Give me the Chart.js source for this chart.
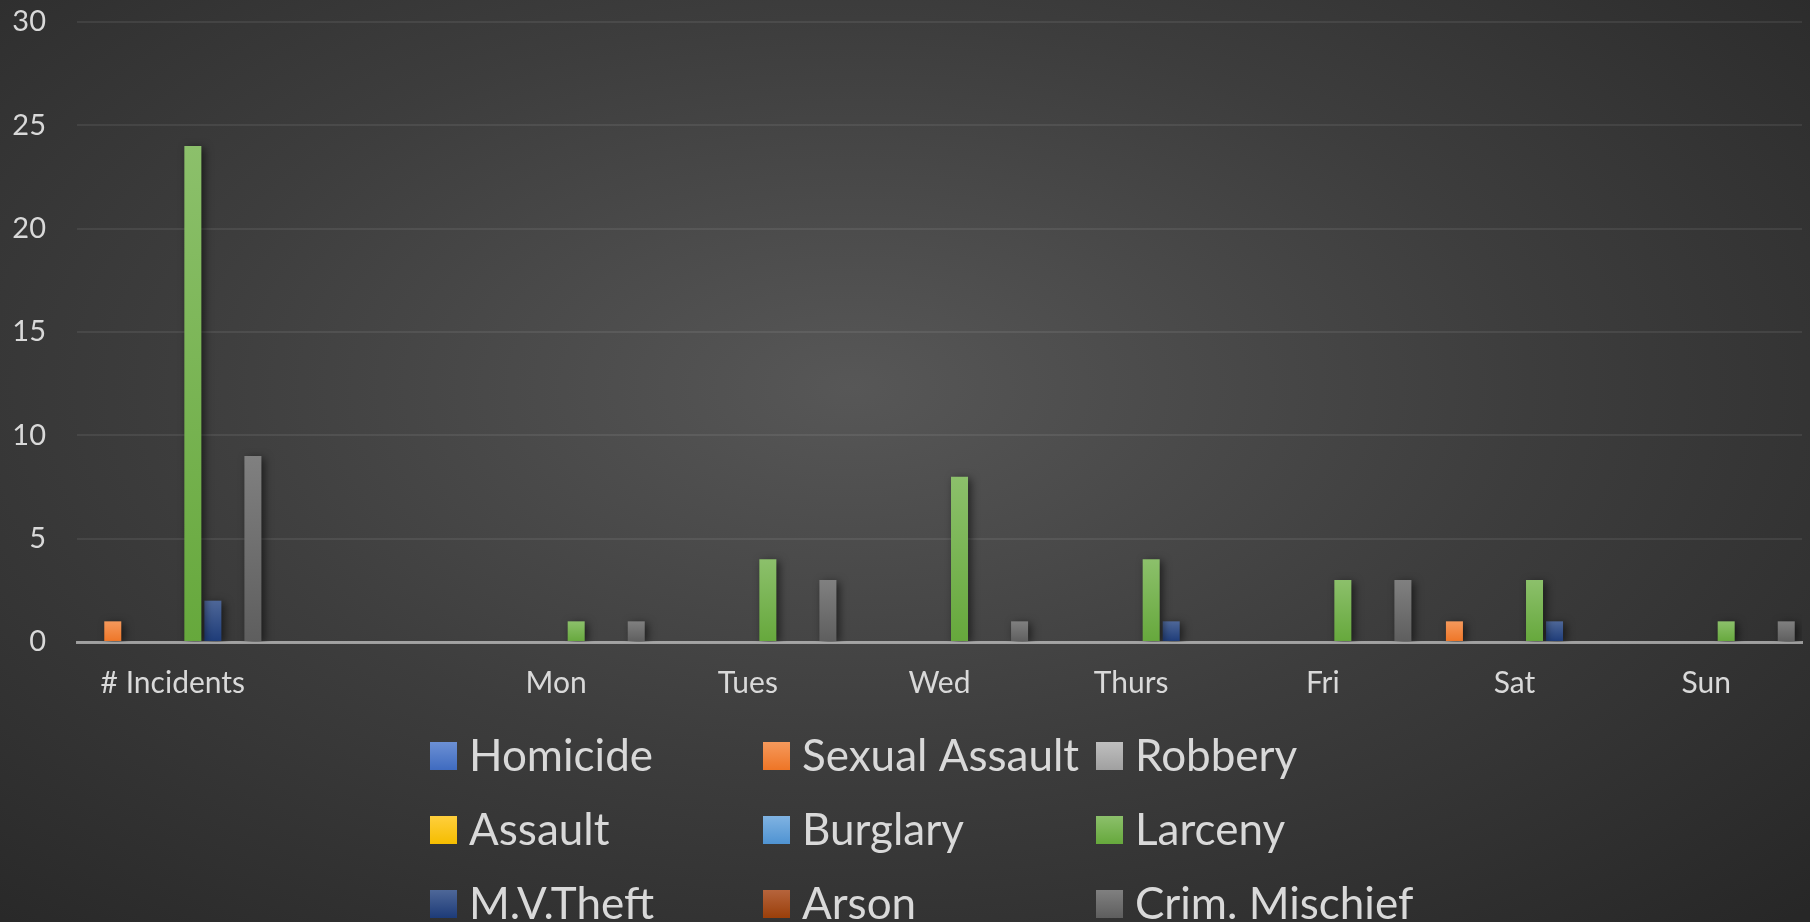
<!DOCTYPE html>
<html>
<head>
<meta charset="utf-8">
<script src="https://cdn.jsdelivr.net/npm/chart.js@4.4.1/dist/chart.umd.min.js"></script>
<style>
  html, body { margin: 0; padding: 0; }
  body {
    width: 1810px; height: 922px; overflow: hidden;
    background: radial-gradient(ellipse 75% 80% at 47% 42%, #575757 0%, #3d3d3d 50%, #272727 100%);
  }
  #wrap { position: relative; width: 1810px; height: 922px; }
</style>
</head>
<body>
<div id="wrap"><canvas id="crime-chart"></canvas></div>
<script>
const categories = ['# Incidents', '', 'Mon', 'Tues', 'Wed', 'Thurs', 'Fri', 'Sat', 'Sun'];

const homicide      = [0, 0, 0, 0, 0, 0, 0, 0, 0];
const sexualAssault = [1, 0, 0, 0, 0, 0, 0, 1, 0];
const robbery       = [0, 0, 0, 0, 0, 0, 0, 0, 0];
const assault       = [0, 0, 0, 0, 0, 0, 0, 0, 0];
const burglary      = [0, 0, 0, 0, 0, 0, 0, 0, 0];
const larceny       = [24, 0, 1, 4, 8, 4, 3, 3, 1];
const mvTheft       = [2, 0, 0, 0, 0, 1, 0, 1, 0];
const arson         = [0, 0, 0, 0, 0, 0, 0, 0, 0];
const crimMischief  = [9, 0, 1, 3, 1, 0, 3, 0, 1];

const yTicks = [0, 5, 10, 15, 20, 25, 30];

const seriesNames = ['Homicide', 'Sexual Assault', 'Robbery', 'Assault', 'Burglary',
  'Larceny', 'M.V.Theft', 'Arson', 'Crim. Mischief'];
const seriesData = [homicide, sexualAssault, robbery, assault, burglary,
  larceny, mvTheft, arson, crimMischief];
// [top tint, base]
const seriesColors = [
  ['#6c90d4', '#3f6bc0'],
  ['#f5995c', '#ee7526'],
  ['#bfbfbf', '#a0a0a0'],
  ['#ffcf3d', '#f5bd00'],
  ['#80b3e2', '#4f93d2'],
  ['#8cc06b', '#66a83c'],
  ['#4e6798', '#1d3b78'],
  ['#b6643c', '#9a3f0a'],
  ['#808080', '#5e5e5e']
];

const textColor = '#d9d9d9';
const fontFamily = 'Lato, "Open Sans", sans-serif';

function barGradient(idx) {
  return (context) => {
    const chart = context.chart;
    const [light, base] = seriesColors[idx];
    if (!chart.chartArea || context.raw === undefined) return base;
    const y = chart.scales.y;
    const top = y.getPixelForValue(context.raw);
    const bottom = y.getPixelForValue(0);
    if (bottom - top < 1) return base;
    const g = chart.ctx.createLinearGradient(0, top, 0, bottom);
    g.addColorStop(0, light);
    g.addColorStop(1, base);
    return g;
  };
}

// soft drop shadow behind the bars
const barShadowPlugin = {
  id: 'barShadowPlugin',
  beforeDatasetsDraw: (chart) => {
    const ctx = chart.ctx;
    ctx.save();
    ctx.shadowColor = 'rgba(0, 0, 0, 0.55)';
    ctx.shadowBlur = 9;
    ctx.shadowOffsetX = 3;
    ctx.shadowOffsetY = 2;
  },
  afterDatasetsDraw: (chart) => {
    chart.ctx.restore();
  }
};

// 3 column legend, like the spreadsheet one
const gridLegendPlugin = {
  id: 'gridLegendPlugin',
  afterDraw: (chart) => {
    const ctx = chart.ctx;
    const colX = [430, 763, 1096];
    const rowY = [756, 830, 904];
    const boxW = 27, boxH = 28;
    ctx.save();
    ctx.font = '44px ' + fontFamily;
    ctx.textBaseline = 'middle';
    ctx.textAlign = 'left';
    chart.data.datasets.forEach((ds, i) => {
      const x = colX[i % 3];
      const y = rowY[Math.floor(i / 3)];
      const [light, base] = seriesColors[i];
      const g = ctx.createLinearGradient(0, y - boxH / 2, 0, y + boxH / 2);
      g.addColorStop(0, light);
      g.addColorStop(1, base);
      ctx.fillStyle = g;
      ctx.fillRect(x, y - boxH / 2, boxW, boxH);
      ctx.fillStyle = textColor;
      ctx.fillText(ds.label, x + boxW + 12, y + 1);
    });
    ctx.restore();
  }
};

const ctx = document.getElementById('crime-chart').getContext('2d');

new Chart(ctx, {
  type: 'bar',
  data: {
    labels: categories,
    datasets: seriesNames.map((name, i) => ({
      label: name,
      data: seriesData[i],
      backgroundColor: barGradient(i),
      borderWidth: 0,
      categoryPercentage: 0.94,
      barPercentage: 0.85
    }))
  },
  options: {
    responsive: true,
    maintainAspectRatio: false,
    animation: false,
    layout: {
      padding: { top: 22, right: 8, bottom: 0, left: 0 }
    },
    plugins: {
      legend: { display: false },
      tooltip: { enabled: false },
      title: { display: false }
    },
    scales: {
      x: {
        z: 1,
        grid: { display: false },
        border: { display: true, color: 'rgba(200, 200, 200, 0.7)', width: 3 },
        ticks: {
          color: textColor,
          font: { family: fontFamily, size: 30 },
          padding: 15,
          maxRotation: 0,
          autoSkip: false
        },
        afterFit: (scale) => { scale.height = 280; }
      },
      y: {
        min: 0,
        max: 30,
        afterBuildTicks: (scale) => { scale.ticks = yTicks.map(v => ({ value: v })); },
        grid: {
          color: 'rgba(255, 255, 255, 0.075)',
          lineWidth: 2,
          drawTicks: false
        },
        border: { display: false },
        ticks: {
          color: textColor,
          font: { family: fontFamily, size: 29 },
          padding: 31
        },
        afterFit: (scale) => {
          scale.width = 77;
          scale.paddingTop = 0;
          scale.paddingBottom = 0;
        }
      }
    }
  },
  plugins: [barShadowPlugin, gridLegendPlugin]
});
</script>
</body>
</html>
